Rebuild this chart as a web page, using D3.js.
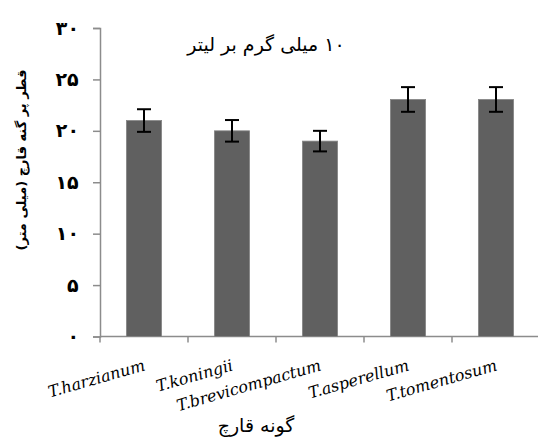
<!DOCTYPE html>
<html>
<head>
<meta charset="utf-8">
<script src="https://cdn.jsdelivr.net/npm/d3@7"></script>
<style>
  html, body { margin: 0; padding: 0; background: #fff; }
  svg { display: block; }
</style>
</head>
<body>
<script>
const categories = ["T.harzianum", "T.koningii", "T.brevicompactum", "T.asperellum", "T.tomentosum"];
const values = [21.0, 20.0, 19.0, 23.05, 23.05];
const errors = [1.1, 1.05, 1.0, 1.2, 1.2];
const yTicks = [0, 5, 10, 15, 20, 25, 30];
const yTickLabels = ["۰", "۵", "۱۰", "۱۵", "۲۰", "۲۵", "۳۰"];
const title = "۱۰ میلی گرم بر لیتر";
const yTitle = "قطر پر گنه قارچ (میلی متر)";
const xTitle = "گونه قارچ";

const W = 538, H = 441;
const svg = d3.select("body").append("svg").attr("width", W).attr("height", H);

const x = d3.scaleBand().domain(categories).range([100, 540]).paddingInner(0.6).paddingOuter(0.3);
const xEdge = d3.scaleLinear().domain([0, categories.length]).range([100, 540]);
const y = d3.scaleLinear().domain([0, 30]).range([336.5, 28]);

const axisColor = "#8c8c8c";

// Y axis
const yAxis = svg.append("g").attr("transform", "translate(100,0)")
  .call(d3.axisLeft(y).tickValues(yTicks).tickSize(7).tickFormat((d, i) => yTickLabels[i]));
yAxis.select(".domain").attr("stroke", axisColor).attr("stroke-width", 1.5);
yAxis.selectAll(".tick line").attr("stroke", axisColor).attr("stroke-width", 1.5);
yAxis.selectAll(".tick text")
  .attr("direction", "ltr")
  .attr("text-anchor", "start")
  .attr("x", 0)
  .attr("font-family", "DejaVu Sans")
  .attr("font-weight", "bold")
  .attr("font-size", 19)
  .attr("fill", "#000")
  .each(function () {
    const b = this.getBBox();
    d3.select(this).attr("x", -21 - (b.x + b.width));
  });

// X axis line and ticks at category boundaries
svg.append("line")
  .attr("x1", xEdge(0)).attr("x2", xEdge(categories.length))
  .attr("y1", y(0)).attr("y2", y(0))
  .attr("stroke", axisColor).attr("stroke-width", 1.5);
svg.append("g").selectAll("line")
  .data(d3.range(categories.length + 1))
  .join("line")
  .attr("x1", d => xEdge(d)).attr("x2", d => xEdge(d))
  .attr("y1", y(0)).attr("y2", y(0) + 6)
  .attr("stroke", axisColor).attr("stroke-width", 1.5);

// Bars
svg.append("g").selectAll("rect")
  .data(values)
  .join("rect")
  .attr("x", (d, i) => x(categories[i]))
  .attr("width", x.bandwidth())
  .attr("y", d => y(d))
  .attr("height", d => y(0) - y(d))
  .attr("fill", "#606060")
  .attr("stroke", "#858585")
  .attr("stroke-width", 0.8);

// Error bars
const eg = svg.append("g").attr("stroke", "#000").attr("stroke-width", 2);
values.forEach((v, i) => {
  const cx = x(categories[i]) + x.bandwidth() / 2;
  const top = y(v + errors[i]), bot = y(v - errors[i]);
  eg.append("line").attr("x1", cx).attr("x2", cx).attr("y1", top).attr("y2", bot);
  eg.append("line").attr("x1", cx - 7).attr("x2", cx + 7).attr("y1", top).attr("y2", top);
  eg.append("line").attr("x1", cx - 7).attr("x2", cx + 7).attr("y1", bot).attr("y2", bot);
});

// X tick labels (rotated)
svg.append("g").selectAll("text")
  .data(categories)
  .join("text")
  .attr("transform", d => `translate(${x(d) + x.bandwidth() / 2 + 2},370) rotate(-16)`)
  .attr("text-anchor", "end")
  .attr("font-family", "DejaVu Serif")
  .attr("font-style", "italic")
  .attr("font-size", 16)
  .attr("fill", "#000")
  .text(d => d);

// Title
svg.append("text")
  .attr("x", 266).attr("y", 51)
  .attr("text-anchor", "middle")
  .attr("direction", "rtl")
  .attr("font-family", "DejaVu Sans")
  .attr("font-size", 19)
  .attr("fill", "#000")
  .text(title);

// Y title
svg.append("text")
  .attr("transform", "translate(26,160) rotate(-90)")
  .attr("text-anchor", "middle")
  .attr("direction", "rtl")
  .attr("font-family", "DejaVu Sans")
  .attr("font-weight", "bold")
  .attr("font-size", 13)
  .attr("fill", "#000")
  .text(yTitle);

// X title
svg.append("text")
  .attr("x", 256).attr("y", 432)
  .attr("text-anchor", "middle")
  .attr("direction", "rtl")
  .attr("font-family", "DejaVu Sans")
  .attr("font-size", 19)
  .attr("fill", "#000")
  .text(xTitle);
</script>
</body>
</html>
